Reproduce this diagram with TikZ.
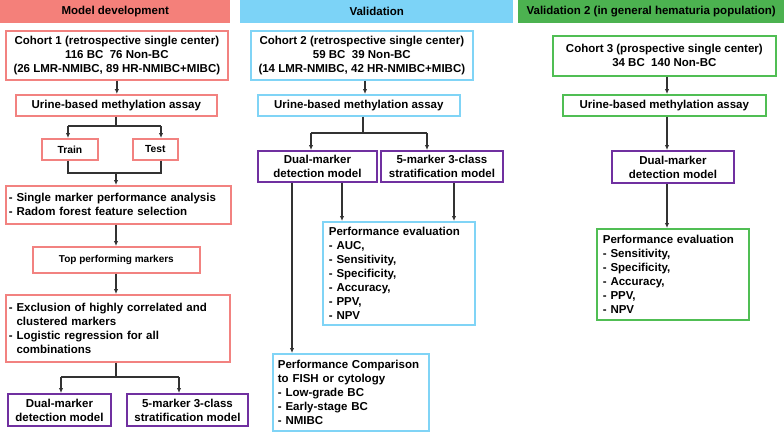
\documentclass[tikz,border=0pt]{standalone}
\usepackage{fontspec}
\setmainfont{Liberation Sans}
\usetikzlibrary{arrows.meta,calc}
\definecolor{salm}{RGB}{244,128,122}
\definecolor{salmline}{RGB}{242,130,128}
\definecolor{lblue}{RGB}{124,211,247}
\definecolor{lblueline}{RGB}{128,212,246}
\definecolor{grn}{RGB}{76,178,80}
\definecolor{grnline}{RGB}{80,190,84}
\definecolor{purp}{RGB}{112,48,160}
\definecolor{arrc}{RGB}{50,50,50}
\begin{document}
\begin{tikzpicture}[x=1pt,y=-1pt,
  font=\bfseries\fontsize{11.5}{14}\selectfont,
  bx/.style={draw, line width=1.7pt, inner sep=0pt, align=center, anchor=north west, fill=white},
  rbox/.style={bx, draw=salmline},
  bbox/.style={bx, draw=lblueline},
  gbox/.style={bx, draw=grnline},
  pbox/.style={bx, draw=purp, line width=1.9pt},
  hdr/.style={anchor=north west, inner sep=0pt, align=center},
  arr/.style={draw=arrc, line width=1.5pt, -{Latex[length=5pt,width=4.5pt]}},
  ln/.style={draw=arrc, line width=1.5pt}]
\useasboundingbox (0,0) rectangle (784,432);

% headers
\node[hdr, fill=salm, minimum width=230, minimum height=23] (h1) at (0,0) {Model development};
\node[hdr, fill=lblue, minimum width=273, minimum height=23] (h2) at (240,0) {Validation};
\node[hdr, fill=grn, minimum width=266, minimum height=23] (h3) at (518,0) {Validation 2 (in general hematuria population)};

% column 1
\node[rbox, minimum width=222, minimum height=49] (coh1) at (5,30) {Cohort 1 (retrospective single center)\\116 BC\ \ 76 Non-BC\\(26 LMR-NMIBC, 89 HR-NMIBC+MIBC)};
\node[rbox, minimum width=201, minimum height=21] (u1) at (15,94) {Urine-based methylation assay};
\node[rbox, minimum width=56, minimum height=21, font=\bfseries\fontsize{10.3}{12}\selectfont] (train) at (41,138) {Train};
\node[rbox, minimum width=45, minimum height=21, font=\bfseries\fontsize{10.3}{12}\selectfont] (test) at (132,138) {Test};
\node[rbox, minimum height=38, inner xsep=3, text width=219, align=left] (sm) at (5,185) {- Single marker performance analysis\\- Radom forest feature selection};
\node[rbox, minimum width=167, minimum height=26, font=\bfseries\fontsize{10}{12}\selectfont] (top) at (32,246) {Top performing markers};
\node[rbox, minimum height=67, inner xsep=3, text width=218, align=left] (excl) at (5,294) {- Exclusion of highly correlated and\\\hphantom{- }clustered markers\\- Logistic regression for all\\\hphantom{- }combinations};
\node[pbox, minimum width=103, minimum height=32] (dual1) at (7,393) {Dual-marker\\detection model};
\node[pbox, minimum width=121, minimum height=32] (five1) at (126,393) {5-marker 3-class\\stratification model};

% column 2
\node[bbox, minimum width=222, minimum height=49] (coh2) at (250,30) {Cohort 2 (retrospective single center)\\59 BC\ \ 39 Non-BC\\(14 LMR-NMIBC, 42 HR-NMIBC+MIBC)};
\node[bbox, minimum width=202, minimum height=21] (u2) at (257,94) {Urine-based methylation assay};
\node[pbox, minimum width=119, minimum height=31] (dual2) at (257,150) {Dual-marker\\detection model};
\node[pbox, minimum width=122, minimum height=31] (five2) at (380,150) {5-marker 3-class\\stratification model};
\node[bbox, minimum height=103, inner xsep=6, text width=140, align=left] (pe2) at (322,221) {Performance evaluation\\- AUC,\\- Sensitivity,\\- Specificity,\\- Accuracy,\\- PPV,\\- NPV};
\node[bbox, minimum height=77, inner xsep=5, text width=146, align=left] (pc) at (272,353) {Performance Comparison\\to FISH or cytology\\- Low-grade BC\\- Early-stage BC\\- NMIBC};

% column 3
\node[gbox, minimum width=223, minimum height=40] (coh3) at (552,35) {Cohort 3 (prospective single center)\\34 BC\ \ 140 Non-BC};
\node[gbox, minimum width=203, minimum height=21] (u3) at (562,94) {Urine-based methylation assay};
\node[pbox, minimum width=122, minimum height=32] (dual3) at (611,150) {Dual-marker\\detection model};
\node[gbox, minimum height=91, inner xsep=6, text width=140, align=left] (pe3) at (596,228) {Performance evaluation\\- Sensitivity,\\- Specificity,\\- Accuracy,\\- PPV,\\- NPV};

% connectors column 1
\draw[arr] (coh1.south) -- (coh1.south |- u1.north);
\coordinate (j1) at (116,126);
\coordinate (j1l) at (68,126);
\coordinate (j1r) at (161,126);
\draw[ln] (u1.south -| j1) -- (j1);
\draw[ln] (j1l) -- (j1r);
\draw[arr] (j1l) -- (j1l |- train.north);
\draw[arr] (j1r) -- (j1r |- test.north);
\coordinate (j2) at (116,173);
\draw[ln] (j1l |- train.south) |- (j2);
\draw[ln] (j1r |- test.south) |- (j2);
\draw[arr] (j2) -- (j2 |- sm.north);
\draw[arr] (sm.south -| j2) -- (j2 |- top.north);
\draw[arr] (top.south -| j2) -- (j2 |- excl.north);
\coordinate (j3) at (116,377);
\coordinate (j3l) at (61,377);
\coordinate (j3r) at (179,377);
\draw[ln] (excl.south -| j3) -- (j3);
\draw[ln] (j3l) -- (j3r);
\draw[arr] (j3l) -- (j3l |- dual1.north);
\draw[arr] (j3r) -- (j3r |- five1.north);

% connectors column 2
\coordinate (c2) at (365,0);
\draw[arr] (coh2.south -| c2) -- (c2 |- u2.north);
\coordinate (j4) at (363,133);
\coordinate (j4l) at (311,133);
\coordinate (j4r) at (427,133);
\draw[ln] (u2.south -| j4) -- (j4);
\draw[ln] (j4l) -- (j4r);
\draw[arr] (j4l) -- (j4l |- dual2.north);
\draw[arr] (j4r) -- (j4r |- five2.north);
\coordinate (d2a) at (292,0);
\coordinate (d2b) at (342,0);
\coordinate (f2a) at (454,0);
\draw[arr] (dual2.south -| d2a) -- (d2a |- pc.north);
\draw[arr] (dual2.south -| d2b) -- (d2b |- pe2.north);
\draw[arr] (five2.south -| f2a) -- (f2a |- pe2.north);

% connectors column 3
\coordinate (c3) at (667,0);
\draw[arr] (coh3.south -| c3) -- (c3 |- u3.north);
\draw[arr] (u3.south -| c3) -- (c3 |- dual3.north);
\draw[arr] (dual3.south -| c3) -- (c3 |- pe3.north);
\end{tikzpicture}
\end{document}
